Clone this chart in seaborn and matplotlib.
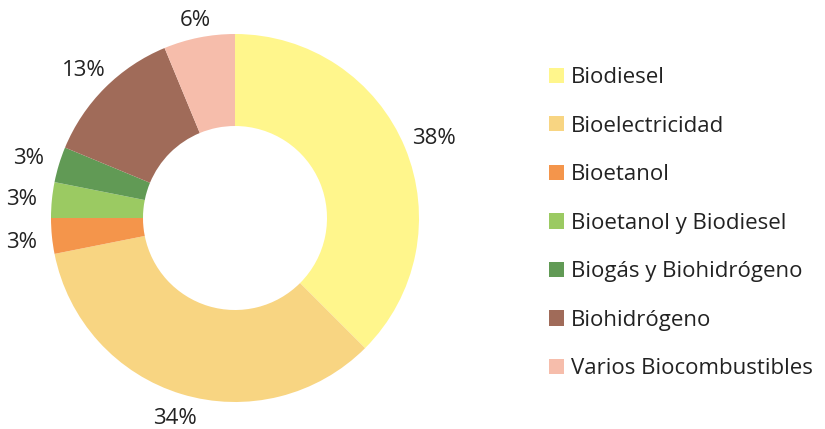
import matplotlib
matplotlib.use("Agg")
import numpy as np
import matplotlib.pyplot as plt
import seaborn as sns
from matplotlib.patches import Patch

categories = ["Biodiesel", "Bioelectricidad", "Bioetanol", "Bioetanol y Biodiesel",
              "Biogás y Biohidrógeno", "Biohidrógeno", "Varios Biocombustibles"]
counts = [12, 11, 1, 1, 1, 4, 2]
colors = ["#FFF68C", "#F8D582", "#F4954B", "#9BCA62", "#619A55", "#A06B59", "#F6BDAB"]

sns.set_theme(style="white")
plt.rcParams["font.family"] = ["Open Sans", "DejaVu Sans"]

W, H = 825, 429
fig = plt.figure(figsize=(W / 100, H / 100), dpi=100)
cx, cy, R = 235, 218, 184
half = 225
ax = fig.add_axes([(cx - half) / W, (H - cy - half) / H, 2 * half / W, 2 * half / H])

wedges, texts, autotexts = ax.pie(
    counts, colors=colors, startangle=90, counterclock=False,
    wedgeprops=dict(width=0.5, linewidth=0),
    autopct=lambda p: f"{int(p + 0.5)}%", pctdistance=1.17,
    textprops=dict(fontsize=16, color="#222222"),
)
# place labels just outside the ring, pushed out by their half-size
for w, t in zip(wedges, autotexts):
    ang = np.deg2rad((w.theta1 + w.theta2) / 2)
    c, s = np.cos(ang), np.sin(ang)
    d = 1.055 + (20 * abs(c) + 7 * abs(s)) / R
    t.set_position((d * c, d * s - 3 / R))
    t.set_ha("center")
    t.set_va("center")

lim = half / R
ax.set_xlim(-lim, lim)
ax.set_ylim(-lim, lim)
ax.set_aspect("equal")
ax.axis("off")

handles = [Patch(facecolor=c, edgecolor="none") for c in colors]
fig.legend(handles, categories, loc="upper left",
           bbox_to_anchor=(549 / W, 1 - 67 / H), frameon=False,
           fontsize=16, handlelength=0.68, handleheight=0.68, handletextpad=0.3,
           labelspacing=1.24, borderpad=0, borderaxespad=0, labelcolor="#222222")

fig.savefig("out.png", dpi=100)
